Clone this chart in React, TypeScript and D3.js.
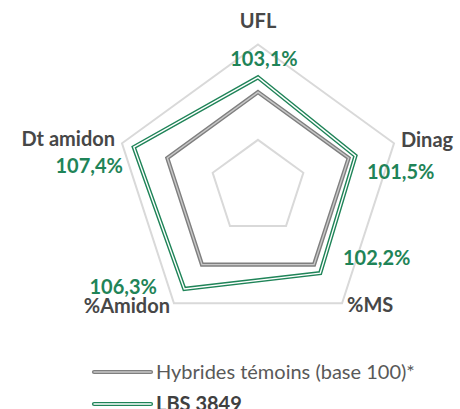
import React from "react";
import * as d3 from "d3";

const categories = ["UFL", "Dinag", "%MS", "%Amidon", "Dt amidon"];
const baseValues = [100, 100, 100, 100, 100];
const lbsValues = [103.1, 101.5, 102.2, 106.3, 107.4];
const valueLabels = ["103,1%", "101,5%", "102,2%", "106,3%", "107,4%"];
const gridLevels = [90, 100, 110];
const seriesNames = ["Hybrides témoins (base 100)*", "LBS 3849"];

const W = 460, H = 409;
const cx = 258, cy = 187.5;
const FONT = "Lato, 'Open Sans', sans-serif";
const GREEN = "#1f8458";
const GRAY = "#7f7f7f";
const TEXT = "#474747";

export default function App() {
  const r = d3.scaleLinear().domain([80, 110]).range([0, 143]);
  const angle = (i: number) => (i * 2 * Math.PI) / categories.length;
  const line = d3
    .lineRadial<number>()
    .angle((_, i) => angle(i))
    .radius((v) => r(v))
    .curve(d3.curveLinearClosed);

  const catPos: { x: number; y: number; anchor: string }[] = [
    { x: 258, y: 28, anchor: "middle" },
    { x: 401, y: 147, anchor: "start" },
    { x: 347, y: 312, anchor: "start" },
    { x: 170, y: 313, anchor: "end" },
    { x: 115, y: 146, anchor: "end" },
  ];
  const valPos: { x: number; y: number; anchor: string }[] = [
    { x: 264, y: 66, anchor: "middle" },
    { x: 367, y: 179, anchor: "start" },
    { x: 343, y: 265, anchor: "start" },
    { x: 157, y: 294, anchor: "end" },
    { x: 123, y: 173, anchor: "end" },
  ];

  return (
    <svg width={W} height={H} style={{ position: "absolute", left: 0, top: 0, background: "#fff" }}>
      <g transform={`translate(${cx},${cy})`}>
        {gridLevels.map((lv) => (
          <path
            key={lv}
            d={line(categories.map(() => lv)) || ""}
            fill="none"
            stroke="#d9d9d9"
            strokeWidth={2}
          />
        ))}
        <path d={line(baseValues) || ""} fill="none" stroke={GRAY} strokeWidth={4.2} strokeLinejoin="miter" />
        <path d={line(baseValues) || ""} fill="none" stroke="#c8c8c8" strokeWidth={1.4} strokeLinejoin="miter" />
        <path d={line(lbsValues) || ""} fill="none" stroke={GREEN} strokeWidth={4.2} strokeLinejoin="miter" />
        <path d={line(lbsValues) || ""} fill="none" stroke="#ffffff" strokeWidth={1.4} strokeLinejoin="miter" />
      </g>
      {categories.map((c, i) => (
        <text
          key={c}
          x={catPos[i].x}
          y={catPos[i].y}
          textAnchor={catPos[i].anchor as any}
          fontFamily={FONT}
          fontWeight="bold"
          fontSize={20}
          fill={TEXT}
        >
          {c}
        </text>
      ))}
      {valueLabels.map((v, i) => (
        <text
          key={v}
          x={valPos[i].x}
          y={valPos[i].y}
          textAnchor={valPos[i].anchor as any}
          fontFamily={FONT}
          fontWeight="bold"
          fontSize={20}
          fill={GREEN}
        >
          {v}
        </text>
      ))}
      <g>
        <line x1={94} x2={151} y1={372} y2={372} stroke={GRAY} strokeWidth={4.2} strokeLinecap="round" />
        <line x1={94} x2={151} y1={372} y2={372} stroke="#c8c8c8" strokeWidth={1.4} strokeLinecap="round" />
        <text x={156} y={379} fontFamily={FONT} fontSize={20} fill="#595959">
          {seriesNames[0]}
        </text>
        <line x1={94} x2={151} y1={404} y2={404} stroke={GREEN} strokeWidth={4.2} strokeLinecap="round" />
        <line x1={94} x2={151} y1={404} y2={404} stroke="#ffffff" strokeWidth={1.4} strokeLinecap="round" />
        <text x={156} y={411} fontFamily={FONT} fontWeight="bold" fontSize={20} fill="#404040">
          {seriesNames[1]}
        </text>
      </g>
    </svg>
  );
}
